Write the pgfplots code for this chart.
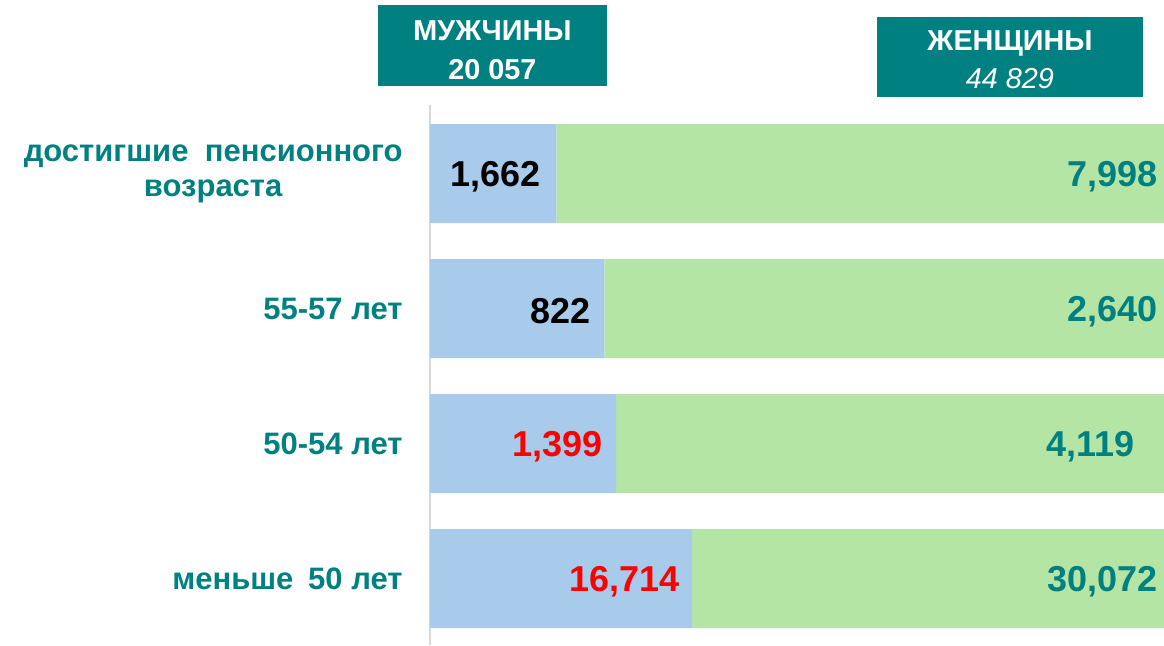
\documentclass[border=0pt]{standalone}
\usepackage{fontspec}
\setmainfont{Liberation Sans}
\usepackage{pgfplots}
\pgfplotsset{compat=1.18}
\usepackage{pgfplotstable}
\definecolor{tealc}{RGB}{0,128,128}
\definecolor{barblue}{RGB}{169,203,235}
\definecolor{bargreen}{RGB}{181,229,165}
\definecolor{axisgray}{RGB}{217,217,217}
\tikzset{vl/.style={anchor=east, inner sep=0pt, yshift=-1.5pt, font=\bfseries\fontsize{18}{18}\selectfont}}
\pgfplotstableread{
y m w
0 16714 30072
1 1399 4119
2 822 2640
3 1662 7998
}\data
\begin{document}
\begin{tikzpicture}
\path[use as bounding box] (0pt,0pt) rectangle (582pt,322.5pt);
\begin{axis}[
  at={(215pt,0pt)}, anchor=south west, scale only axis,
  width=367pt, height=270pt,
  xmin=0, xmax=100, ymin=-0.4926, ymax=3.5074,
  xbar stacked, bar width=49.5pt,
  axis x line=none, axis y line=left,
  y axis line style={-, draw=axisgray, line width=1pt},
  every outer y axis line/.append style={-},
  ytick={0,1,2,3},
  yticklabels={меньше\hspace{0.2em} 50 лет, 50-54 лет, 55-57 лет, {достигшие\hspace{0.25em} пенсионного\\возраста}},
  major tick length=0pt,
  yticklabel style={anchor=east, inner sep=0pt, xshift=-13.5pt, align=center,
    font=\bfseries\fontsize{15.5}{17.5}\selectfont, text=tealc},
  clip=false,
]
\addplot[fill=barblue, draw=none] table[x expr={100*\thisrow{m}/(\thisrow{m}+\thisrow{w})}, y=y]{\data};
\addplot[fill=bargreen, draw=none] table[x expr={100*\thisrow{w}/(\thisrow{m}+\thisrow{w})}, y=y]{\data};
\coordinate (m3) at (axis cs:15.12,3);
\coordinate (m2) at (axis cs:21.93,2);
\coordinate (m1) at (axis cs:23.57,1);
\coordinate (m0) at (axis cs:34.06,0);
\coordinate (w3) at (axis cs:99.2,3);
\coordinate (w2) at (axis cs:99.2,2);
\coordinate (w1) at (axis cs:96.05,1);
\coordinate (w0) at (axis cs:99.2,0);
\end{axis}
\node[vl, text=black] at (m3) {1,662};
\node[vl, text=black] at (m2) {822};
\node[vl, text=red] at (m1) {1,399};
\node[vl, text=red] at (m0) {16,714};
\node[vl, text=tealc] at (w3) {7,998};
\node[vl, text=tealc] at (w2) {2,640};
\node[vl, text=tealc] at (w1) {4,119};
\node[vl, text=tealc] at (w0) {30,072};
\fill[tealc] (189pt,279.5pt) rectangle (303.5pt,320pt);
\node[inner sep=0pt, text=white, align=center, font=\fontsize{14.4}{19}\selectfont]
  at (246.25pt,297.5pt) {\bfseries МУЖЧИНЫ\\[0.5pt]\bfseries 20 057};
\fill[tealc] (438.5pt,274pt) rectangle (571.5pt,314pt);
\node[inner sep=0pt, text=white, align=center, font=\fontsize{14.4}{19}\selectfont]
  at (505pt,292.6pt) {\bfseries ЖЕНЩИНЫ\\\itshape 44 829};
\end{tikzpicture}
\end{document}
